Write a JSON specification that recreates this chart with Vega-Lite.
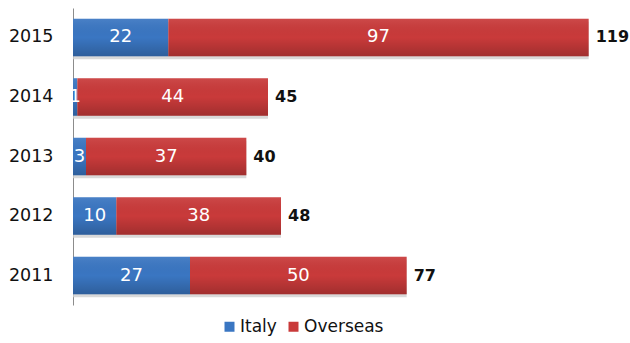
{
  "$schema": "https://vega.github.io/schema/vega-lite/v6.json",
  "width": 520,
  "height": 297,
  "autosize": "none",
  "padding": {"left": 73, "top": 8, "right": 37, "bottom": 38},
  "background": "white",
  "config": {"view": {"stroke": null}, "font": "DejaVu Sans"},
  "data": {"values": [
    {"year": "2015", "series": "Italy", "value": 22, "ord": 1},
    {"year": "2015", "series": "Overseas", "value": 97, "ord": 2},
    {"year": "2014", "series": "Italy", "value": 1, "ord": 1},
    {"year": "2014", "series": "Overseas", "value": 44, "ord": 2},
    {"year": "2013", "series": "Italy", "value": 3, "ord": 1},
    {"year": "2013", "series": "Overseas", "value": 37, "ord": 2},
    {"year": "2012", "series": "Italy", "value": 10, "ord": 1},
    {"year": "2012", "series": "Overseas", "value": 38, "ord": 2},
    {"year": "2011", "series": "Italy", "value": 27, "ord": 1},
    {"year": "2011", "series": "Overseas", "value": 50, "ord": 2}
  ]},
  "encoding": {
    "y": {"field": "year", "type": "nominal", "sort": "descending",
      "scale": {"paddingInner": 0.37, "paddingOuter": 0.18},
      "axis": {"title": null, "ticks": false, "domainColor": "#8c8c8c", "labelFontSize": 17.5, "labelColor": "#111", "labelPadding": 20, "labelFont": "DejaVu Sans"}}
  },
  "layer": [
    {
      "mark": {"type": "bar", "yOffset": 3, "color": "#d0d0d0", "opacity": 0.8},
      "transform": [{"aggregate": [{"op": "sum", "field": "value", "as": "total"}], "groupby": ["year"]}],
      "encoding": {"x": {"field": "total", "type": "quantitative", "scale": {"domain": [0, 120]}, "axis": null}}
    },
    {
      "mark": {"type": "bar"},
      "encoding": {
        "x": {"field": "value", "type": "quantitative", "stack": "zero", "scale": {"domain": [0, 120]}, "axis": null},
        "color": {"field": "series", "type": "nominal",
          "scale": {"domain": ["Italy", "Overseas"], "range": ["#3a76c2", "#c93a3a"]},
          "legend": {"title": null, "orient": "none", "direction": "horizontal", "legendX": 148, "legendY": 310, "symbolType": "square", "symbolSize": 100, "symbolStrokeWidth": 0, "labelFontSize": 17, "labelColor": "#111", "columnPadding": 8, "labelOffset": 2}},
        "order": {"field": "ord", "type": "quantitative"}
      }
    },
    {
      "mark": {"type": "bar", "color": {"gradient": "linear", "x1": 0, "y1": 0, "x2": 0, "y2": 1, "stops": [{"offset": 0, "color": "rgba(255,255,255,0.08)"}, {"offset": 0.5, "color": "rgba(0,0,0,0)"}, {"offset": 1, "color": "rgba(0,0,0,0.2)"}]}},
      "encoding": {
        "x": {"field": "value", "type": "quantitative", "stack": "zero", "scale": {"domain": [0, 120]}, "axis": null},
        "detail": {"field": "series"},
        "order": {"field": "ord", "type": "quantitative"}
      }
    },
    {
      "mark": {"type": "text", "color": "white", "fontSize": 18, "align": "center", "baseline": "middle"},
      "encoding": {
        "x": {"field": "value", "type": "quantitative", "stack": "zero", "bandPosition": 0.5},
        "detail": {"field": "series"},
        "order": {"field": "ord", "type": "quantitative"},
        "text": {"field": "value", "type": "quantitative"}
      }
    },
    {
      "mark": {"type": "text", "color": "#111", "fontSize": 16, "fontWeight": "bold", "align": "left", "baseline": "middle", "dx": 7},
      "transform": [{"aggregate": [{"op": "sum", "field": "value", "as": "total"}], "groupby": ["year"]}],
      "encoding": {
        "x": {"field": "total", "type": "quantitative"},
        "text": {"field": "total", "type": "quantitative"}
      }
    }
  ]
}
